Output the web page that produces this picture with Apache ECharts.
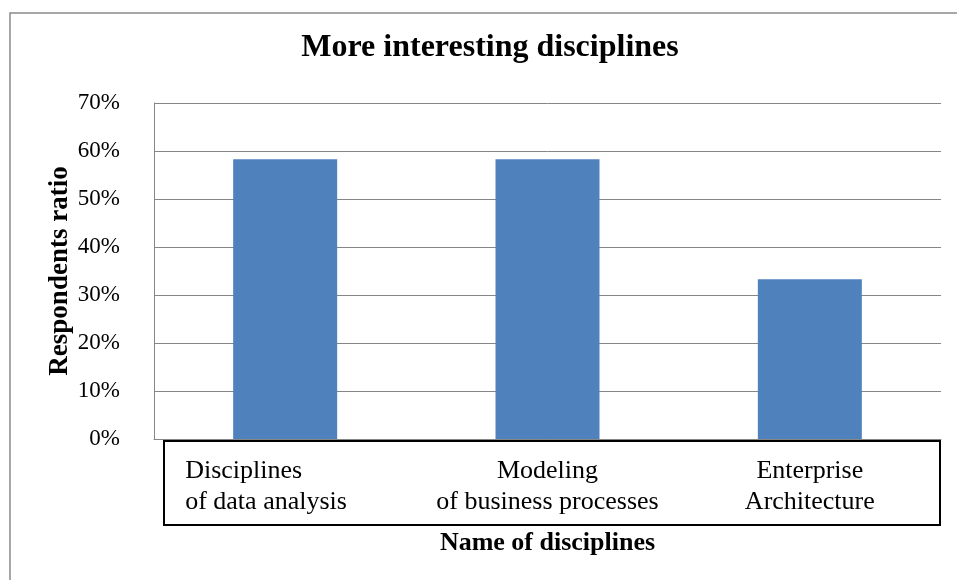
<!DOCTYPE html>
<html>
<head>
<meta charset="utf-8">
<script src="https://cdn.jsdelivr.net/npm/echarts@6/dist/echarts.min.js"></script>
<style>
html,body{margin:0;padding:0;background:#fff;}
#chart{width:957px;height:580px;}
</style>
</head>
<body>
<div id="chart"></div>
<script>
const titleText = 'More interesting disciplines';
const categories = ['Disciplines\nof data analysis', 'Modeling\nof business processes', 'Enterprise\nArchitecture'];
const values = [58.3, 58.3, 33.3];
const yAxisName = 'Respondents ratio';
const xAxisName = 'Name of disciplines';
const yMin = 0, yMax = 70, yStep = 10;

const FONT = '"Liberation Serif", "Times New Roman", serif';
const chart = echarts.init(document.getElementById('chart'), null, {renderer: 'canvas'});
chart.setOption({
  animation: false,
  backgroundColor: '#fff',
  title: {
    text: titleText,
    left: 490,
    textAlign: 'center',
    top: 32,
    padding: 0,
    textStyle: {fontFamily: FONT, fontWeight: 'bold', fontSize: 32, color: '#000'}
  },
  graphic: [
    {type: 'rect', shape: {x: 10, y: 13, width: 1100, height: 1100}, style: {fill: 'none', stroke: '#8a8a8a', lineWidth: 1.5}, silent: true},
    {type: 'rect', shape: {x: 164, y: 441, width: 776, height: 84}, style: {fill: 'none', stroke: '#000', lineWidth: 2}, silent: true, z: 10}
  ],
  grid: {left: 154, right: 16, top: 103, bottom: 141, containLabel: false},
  xAxis: {
    type: 'category',
    data: categories,
    axisLine: {show: true, lineStyle: {color: '#868686', width: 1}},
    axisTick: {show: false},
    axisLabel: {
      interval: 0,
      margin: 17,
      fontFamily: FONT,
      fontSize: 26,
      color: '#000',
      lineHeight: 31,
      formatter: function (v, i) {
        const lines = v.split('\n');
        const key = i === 0 ? 'l' : 'c';
        return lines.map(s => '{' + key + '|' + s + '}').join('\n');
      },
      rich: {
        l: {fontFamily: FONT, fontSize: 26, lineHeight: 31, color: '#000', width: 200, align: 'left'},
        c: {fontFamily: FONT, fontSize: 26, lineHeight: 31, color: '#000'}
      }
    },
    name: xAxisName,
    nameLocation: 'middle',
    nameGap: 91,
    nameMoveOverlap: false,
    nameTextStyle: {fontFamily: FONT, fontWeight: 'bold', fontSize: 26, color: '#000'}
  },
  yAxis: {
    type: 'value',
    min: yMin, max: yMax, interval: yStep,
    axisLine: {show: true, lineStyle: {color: '#868686', width: 1}},
    axisTick: {show: false},
    splitLine: {show: true, lineStyle: {color: '#868686', width: 1}},
    axisLabel: {
      margin: 34,
      fontFamily: FONT,
      fontSize: 23,
      color: '#000',
      formatter: '{value}%'
    },
    name: yAxisName,
    nameLocation: 'middle',
    nameRotate: 90,
    nameGap: 80,
    nameMoveOverlap: false,
    nameTextStyle: {fontFamily: FONT, fontWeight: 'bold', fontSize: 27, color: '#000'}
  },
  series: [{
    type: 'bar',
    data: values,
    barWidth: 104,
    itemStyle: {color: '#4F81BD'},
    emphasis: {disabled: true}
  }]
});
</script>
</body>
</html>
